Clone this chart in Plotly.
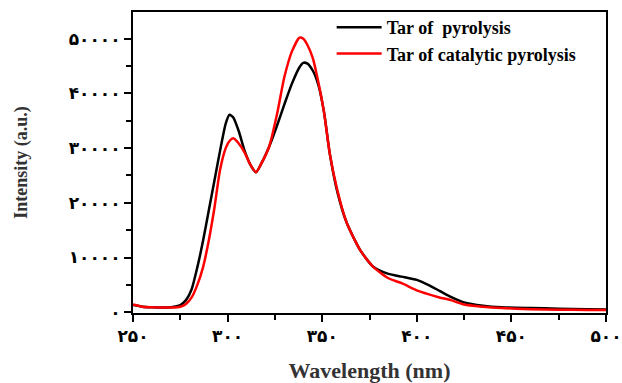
import plotly.graph_objects as go

wavelength = [250, 255, 260, 265, 270, 275, 278, 281, 284, 287, 290, 293, 296, 299, 301, 303, 306, 309, 312, 315,
              318, 322, 326, 330, 334, 338, 340, 342, 345, 348, 351, 354, 358, 363, 370, 377, 385, 392, 400, 406,
              412, 418, 425, 435, 445, 460, 475, 490, 500]

tar_pyrolysis = [1300, 1000, 900, 850, 900, 1300, 2200, 4200, 8200, 13000, 18500, 24000, 29500, 34500, 36100, 35600,
                 33000, 29500, 27000, 25600, 27300, 30300, 34000, 38000, 41800, 44800, 45600, 45500, 44200, 41500,
                 36500, 29000, 22000, 16300, 11400, 8300, 7000, 6500, 5900, 5000, 3900, 2800, 1800, 1200, 900, 750,
                 650, 550, 500]

tar_catalytic = [1400, 1000, 900, 850, 850, 1000, 1500, 2700, 5000, 8200, 13000, 19000, 26000, 30000, 31300, 31800,
                 30800, 29200, 27000, 25600, 27300, 30300, 36000, 43000, 47700, 50200, 50000, 49000, 46500, 42000,
                 36500, 29000, 22300, 16300, 11400, 8300, 6200, 5300, 4000, 3300, 2700, 2200, 1400, 1000, 750, 550,
                 450, 400, 400]

series_names = ["Tar of\u00a0 pyrolysis", "Tar of catalytic pyrolysis"]

x_tickvals = [250, 300, 350, 400, 450, 500]
x_ticktext = ["۲۵۰", "۳۰۰", "۳۵۰", "۴۰۰", "۴۵۰", "۵۰۰"]
y_tickvals = [0, 10000, 20000, 30000, 40000, 50000]
y_ticktext = ["۰", "۱۰۰۰۰", "۲۰۰۰۰", "۳۰۰۰۰", "۴۰۰۰۰", "۵۰۰۰۰"]

serif = "Liberation Serif, Times New Roman, DejaVu Serif, serif"
digits_font = "DejaVu Sans, Noto Sans, sans-serif"

fig = go.Figure()
fig.add_trace(go.Scatter(x=wavelength, y=tar_pyrolysis, mode="lines", name="<b>" + series_names[0] + "</b>",
                         line=dict(color="black", width=2.5, shape="spline", smoothing=0.6)))
fig.add_trace(go.Scatter(x=wavelength, y=tar_catalytic, mode="lines", name="<b>" + series_names[1] + "</b>",
                         line=dict(color="#ff0000", width=2.5, shape="spline", smoothing=0.6)))

axis_common = dict(showgrid=False, zeroline=False, showline=True, linecolor="black", linewidth=2,
                   mirror=True, ticks="outside", ticklen=7, tickwidth=2, tickcolor="black", automargin=False,
                   tickfont=dict(family=digits_font, size=17, color="black"))

fig.update_xaxes(range=[250, 500], tickvals=x_tickvals, ticktext=["<b>" + t + "</b>" for t in x_ticktext],
                 minor=dict(dtick=25, tick0=250, ticks="outside", ticklen=5, tickwidth=2, tickcolor="black"),
                 title=dict(text="<b>Wavelength (nm)</b>", font=dict(family=serif, size=22, color="#333333"),
                            standoff=24),
                 **axis_common)
fig.update_yaxes(range=[-150, 54900], tickvals=y_tickvals, ticktext=["<b>" + t + "</b>" for t in y_ticktext],
                 minor=dict(dtick=5000, tick0=0, ticks="outside", ticklen=5, tickwidth=2, tickcolor="black"),
                 title=dict(text="<b>Intensity (a.u.)</b>", font=dict(family=serif, size=18, color="#333333"),
                            standoff=36),
                 **axis_common)

fig.update_layout(
    width=622, height=383,
    margin=dict(l=133, r=16, t=12, b=70, autoexpand=False),
    plot_bgcolor="white", paper_bgcolor="white",
    legend=dict(x=0.42, y=1.01, xanchor="left", yanchor="top", bgcolor="rgba(0,0,0,0)",
                font=dict(family=serif, size=18, color="black"), tracegroupgap=0, itemwidth=45),
    showlegend=True,
)

fig.write_html("out.html", config={"displayModeBar": False},
               post_script="document.body.style.margin='0';")
